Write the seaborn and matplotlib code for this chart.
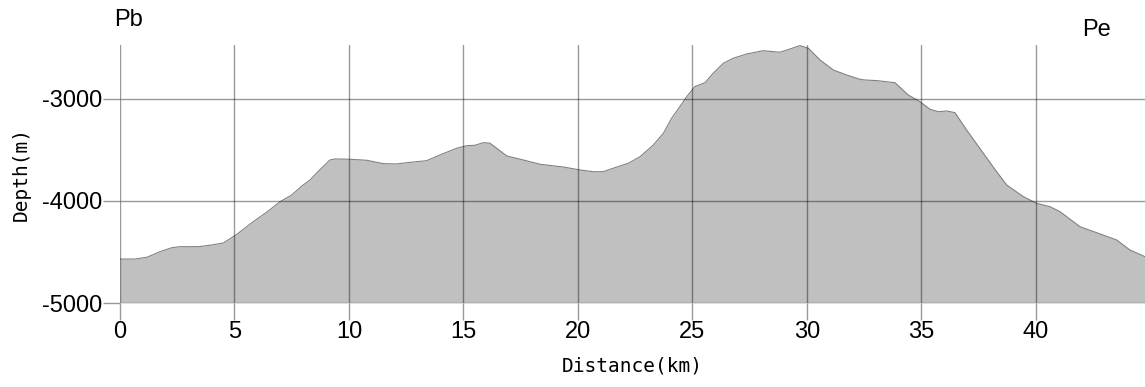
import numpy as np
import pandas as pd
import seaborn as sns
import matplotlib.pyplot as plt

# profile: distance (km) and depth (m)
distance = [0.0, 0.65, 1.17, 1.75, 2.26, 2.62, 3.42, 3.93, 4.51, 5.1, 5.82, 6.4,
            6.99, 7.5, 8.0, 8.3, 8.7, 9.17, 9.39, 10.04, 10.77, 11.5, 12.08, 12.66,
            13.39, 13.97, 14.7, 15.14, 15.5, 15.87, 16.16, 16.89, 17.61, 18.34,
            19.36, 20.09, 20.67, 21.1, 21.54, 22.2, 22.71, 23.29, 23.73, 24.09,
            24.45, 24.75, 25.1, 25.55, 25.9, 26.35, 26.78, 27.37, 28.09, 28.82,
            29.26, 29.69, 30.06, 30.57, 31.15, 31.73, 32.31, 32.53, 33.04, 33.84,
            34.42, 34.93, 35.37, 35.73, 36.1, 36.46, 36.97, 37.7, 38.28, 38.72,
            39.45, 40.03, 40.61, 41.05, 41.92, 42.65, 43.52, 44.1, 44.76]
depth = [-4569, -4569, -4552, -4497, -4458, -4448, -4448, -4434, -4412, -4327,
         -4203, -4111, -4007, -3941, -3843, -3794, -3700, -3598, -3588, -3591,
         -3601, -3634, -3637, -3621, -3605, -3549, -3483, -3458, -3454, -3428,
         -3434, -3559, -3598, -3640, -3667, -3696, -3713, -3713, -3679, -3630,
         -3566, -3451, -3336, -3189, -3075, -2977, -2879, -2840, -2748, -2650,
         -2601, -2559, -2527, -2542, -2510, -2477, -2503, -2618, -2716, -2765,
         -2807, -2814, -2820, -2840, -2961, -3026, -3101, -3125, -3118, -3134,
         -3304, -3532, -3713, -3843, -3958, -4023, -4056, -4105, -4252, -4311,
         -4382, -4480, -4546]

x_ticks = [0, 5, 10, 15, 20, 25, 30, 35, 40]
y_ticks = [-5000, -4000, -3000]

df = pd.DataFrame({"distance": distance, "depth": depth})

sns.set_style("white")
plt.rcParams["axes.unicode_minus"] = False
plt.rcParams["text.color"] = "black"
plt.rcParams["xtick.color"] = "black"
plt.rcParams["ytick.color"] = "black"
plt.rcParams["axes.labelcolor"] = "black"

fig = plt.figure(figsize=(11.45, 3.87), dpi=100)
ax = fig.add_axes([120 / 1145, 84 / 387, 1025 / 1145, 258 / 387])

ax.fill_between(df["distance"], df["depth"], -5000, color="#c0c0c0", lw=0, zorder=1)
sns.lineplot(data=df, x="distance", y="depth", ax=ax, color="#808080", lw=0.8, zorder=2)

ax.set_xlim(0, 44.76)
ax.set_ylim(-5000, -2471)
ax.set_xticks(x_ticks)
ax.set_yticks(y_ticks)
ax.grid(True, color="black", alpha=0.4, lw=1, zorder=3)
ax.set_axisbelow(False)
for s in ax.spines.values():
    s.set_visible(False)
ax.tick_params(axis="both", bottom=True, left=True, direction="out", length=12,
               width=1, color="#999999", labelsize=17, pad=1)
for lab in ax.get_xticklabels() + ax.get_yticklabels():
    lab.set_family("Liberation Sans")

ax.set_xlabel("Distance(km)", family="DejaVu Sans Mono", fontsize=14, labelpad=10)
ax.set_ylabel("Depth(m)", family="DejaVu Sans Mono", fontsize=14, labelpad=8)

fig.text(128 / 1145, 1 - 20 / 387, "Pb", family="Liberation Sans", fontsize=17,
         ha="center", va="center")
fig.text(1096 / 1145, 1 - 30 / 387, "Pe", family="Liberation Sans", fontsize=17,
         ha="center", va="center")

fig.savefig("out.png", dpi=100)
